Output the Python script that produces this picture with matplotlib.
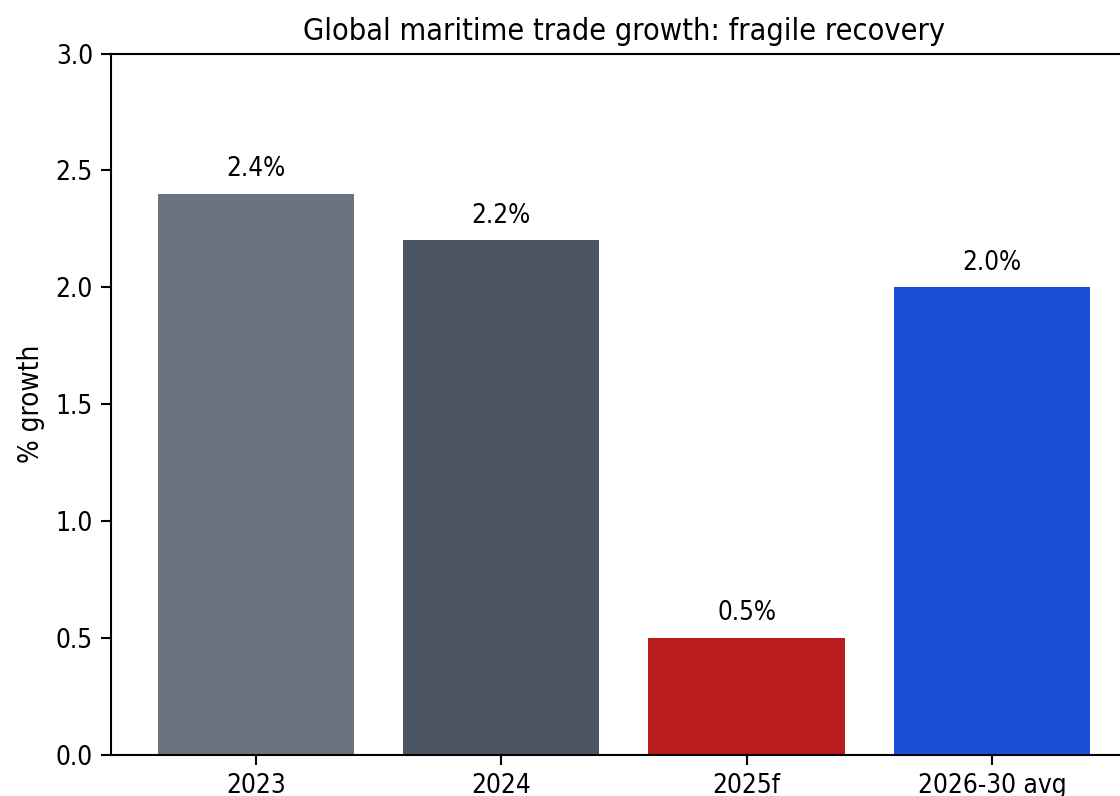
import matplotlib
matplotlib.use("Agg")
import matplotlib.pyplot as plt

categories = ["2023", "2024", "2025f", "2026-30 avg"]
growth = [2.4, 2.2, 0.5, 2.0]
bar_colors = ["#6b7280", "#4b5563", "#b91c1c", "#1d4ed8"]

plt.rcParams["font.family"] = ["DejaVu Sans"]
plt.rcParams["font.stretch"] = "condensed"

fig = plt.figure(figsize=(11.2, 7.96), dpi=100)
ax = fig.add_axes([0.0991, 0.0521, 0.916, 0.8806])

bars = ax.bar(categories, growth, color=bar_colors, width=0.8)
for bar, val in zip(bars, growth):
    ax.text(bar.get_x() + bar.get_width() / 2, val + 0.05, f"{val:.1f}%",
            ha="center", va="bottom", fontsize=18.6, stretch="condensed")

ax.set_ylim(0, 3.0)
ax.set_yticks([0, 0.5, 1.0, 1.5, 2.0, 2.5, 3.0])
ax.set_ylabel("% growth", fontsize=20, labelpad=8)
ax.set_title("Global maritime trade growth: fragile recovery", fontsize=22, pad=10)
ax.tick_params(axis="both", labelsize=18.8, length=7, width=1.5, pad=6)
for side in ax.spines.values():
    side.set_linewidth(1.5)

fig.savefig("out.png", dpi=100)
